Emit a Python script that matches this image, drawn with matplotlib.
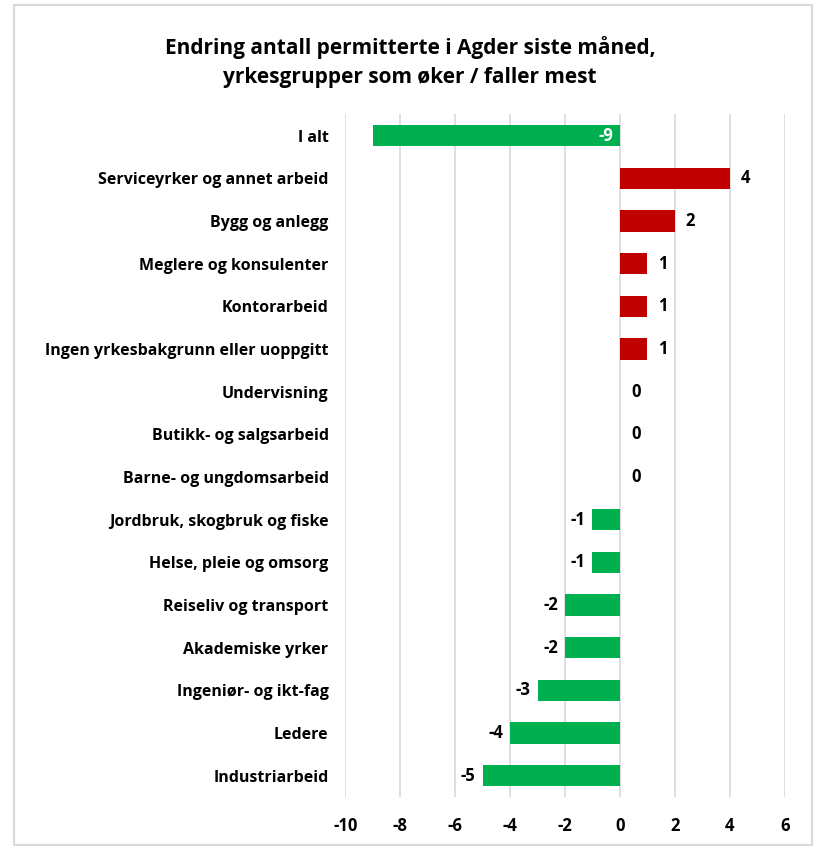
import matplotlib.pyplot as plt
from matplotlib.patches import Rectangle

plt.rcParams['font.family'] = ['Open Sans', 'DejaVu Sans']

categories = ["I alt", "Serviceyrker og annet arbeid", "Bygg og anlegg",
              "Meglere og konsulenter", "Kontorarbeid",
              "Ingen yrkesbakgrunn eller uoppgitt", "Undervisning",
              "Butikk- og salgsarbeid", "Barne- og ungdomsarbeid",
              "Jordbruk, skogbruk og fiske", "Helse, pleie og omsorg",
              "Reiseliv og transport", "Akademiske yrker",
              "Ingeniør- og ikt-fag", "Ledere", "Industriarbeid"]
values = [-9, 4, 2, 1, 1, 1, 0, 0, 0, -1, -1, -2, -2, -3, -4, -5]
xticks = [-10, -8, -6, -4, -2, 0, 2, 4, 6]

green = "#00B050"
red = "#C00000"

fig = plt.figure(figsize=(8.2, 8.48), dpi=100)
fig.patches.append(Rectangle((0.017, 0.004), 0.973, 0.99, transform=fig.transFigure,
                             fill=False, edgecolor="#d9d9d9", linewidth=1.5))
ax = fig.add_axes([0.421, 0.06, 0.536, 0.805])

ypos = list(range(len(categories)))
colors = [red if v > 0 else green for v in values]
ax.barh(ypos, values, height=0.5, color=colors, zorder=3)

for i, v in enumerate(values):
    if i == 0:
        # the total label sits inside the bar, in white
        ax.text(-0.25, i, str(v), ha="right", va="center", color="white",
                fontsize=12, fontweight="bold", zorder=4)
    elif v >= 0:
        ax.text(v + 0.4, i, str(v), ha="left", va="center",
                fontsize=12, fontweight="bold", zorder=4)
    else:
        ax.text(v - 0.25, i, str(v), ha="right", va="center",
                fontsize=12, fontweight="bold", zorder=4)

ax.set_xlim(-10, 6)
ax.set_ylim(len(categories) - 0.5, -0.5)
ax.set_xticks(xticks)
ax.set_xticklabels([str(t) for t in xticks], fontsize=12, fontweight="bold")
ax.set_yticks(ypos)
ax.set_yticklabels(categories, fontsize=11.5, fontweight="bold")
ax.tick_params(axis="x", length=0, pad=14)
ax.tick_params(axis="y", length=0, pad=12)
ax.grid(axis="x", color="#d9d9d9", linewidth=1.2, zorder=0)
for s in ax.spines.values():
    s.set_visible(False)

fig.text(0.5, 0.927, "Endring antall permitterte i Agder siste måned,\nyrkesgrupper som øker / faller mest",
         ha="center", va="center", fontsize=15, fontweight="bold", linespacing=1.5)

fig.savefig("out.png", dpi=100)
